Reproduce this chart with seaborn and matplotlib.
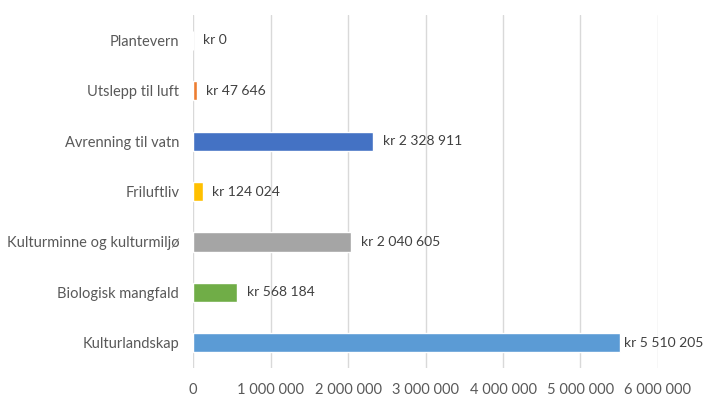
import pandas as pd
import matplotlib.pyplot as plt
import matplotlib.ticker as mticker
import seaborn as sns

# Data
categories = [
    "Plantevern",
    "Utslepp til luft",
    "Avrenning til vatn",
    "Friluftliv",
    "Kulturminne og kulturmiljø",
    "Biologisk mangfald",
    "Kulturlandskap",
]
values = [0, 47646, 2328911, 124024, 2040605, 568184, 5510205]
colors = ["#A5A5A5", "#ED7D31", "#4472C4", "#FFC000", "#A5A5A5", "#70AD47", "#5B9BD5"]
xticks = [0, 1000000, 2000000, 3000000, 4000000, 5000000, 6000000]

df = pd.DataFrame({"kategori": categories, "belop": values})

sns.set_style("white")
plt.rcParams["font.family"] = ["Lato", "DejaVu Sans"]
text_color = "#595959"


def space_fmt(v):
    return f"{int(round(v)):,}".replace(",", " ")


fig = plt.figure(figsize=(7.06, 4.07), dpi=100)
ax = fig.add_axes([0.2734, 0.0958, 0.6586, 0.8673])

sns.barplot(data=df, x="belop", y="kategori", hue="kategori", palette=colors,
            orient="h", width=0.38, saturation=1, legend=False, ax=ax, zorder=3)

ax.set_xlim(0, 6000000)
ax.set_xticks(xticks)
ax.xaxis.set_major_formatter(mticker.FuncFormatter(lambda v, p: space_fmt(v)))
ax.grid(axis="x", color="#D9D9D9", linewidth=1, zorder=0)
ax.set_axisbelow(True)
for s in ax.spines.values():
    s.set_visible(False)
ax.set_xlabel("")
ax.set_ylabel("")
ax.tick_params(axis="both", length=0, colors=text_color, labelsize=10.5)
ax.tick_params(axis="x", pad=11)
ax.tick_params(axis="y", pad=10)

# data labels (the longest one is nudged in so it fits, like Excel does)
for i, v in enumerate(values):
    gap = 3 if v > 5000000 else 7
    ax.annotate("kr " + space_fmt(v), xy=(v, i), xytext=(gap, 0),
                textcoords="offset points", va="center", ha="left",
                fontsize=10, color="#404040")

fig.savefig("out.png", dpi=100)
